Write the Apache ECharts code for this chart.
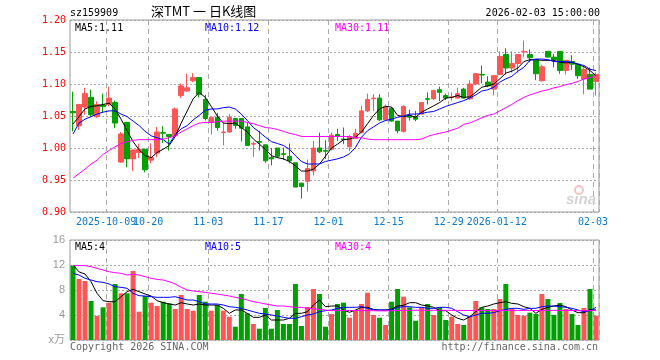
<!DOCTYPE html>
<html>
<head>
<meta charset="utf-8">
<script src="https://cdn.jsdelivr.net/npm/echarts@6/dist/echarts.min.js"></script>
<style>html,body{margin:0;padding:0;background:#fff}#c{width:660px;height:360px}</style>
</head>
<body>
<div id="c"></div>
<script>
const dates = ['2025-09-23','2025-09-24','2025-09-25','2025-09-26','2025-09-29','2025-09-30',
'2025-10-09','2025-10-10','2025-10-13','2025-10-14','2025-10-15','2025-10-16','2025-10-17',
'2025-10-20','2025-10-21','2025-10-22','2025-10-23','2025-10-24','2025-10-27','2025-10-28','2025-10-29','2025-10-30','2025-10-31',
'2025-11-03','2025-11-04','2025-11-05','2025-11-06','2025-11-07','2025-11-10','2025-11-11','2025-11-12','2025-11-13','2025-11-14',
'2025-11-17','2025-11-18','2025-11-19','2025-11-20','2025-11-21','2025-11-24','2025-11-25','2025-11-26','2025-11-27','2025-11-28',
'2025-12-01','2025-12-02','2025-12-03','2025-12-04','2025-12-05','2025-12-08','2025-12-09','2025-12-10','2025-12-11','2025-12-12',
'2025-12-15','2025-12-16','2025-12-17','2025-12-18','2025-12-19','2025-12-22','2025-12-23','2025-12-24','2025-12-25','2025-12-26',
'2025-12-29','2025-12-30','2025-12-31','2026-01-05','2026-01-06','2026-01-07','2026-01-08','2026-01-09',
'2026-01-12','2026-01-13','2026-01-14','2026-01-15','2026-01-16','2026-01-19','2026-01-20','2026-01-21','2026-01-22','2026-01-23',
'2026-01-26','2026-01-27','2026-01-28','2026-01-29','2026-01-30','2026-02-02','2026-02-03'];

const tickDates  = ['2025-10-09','2025-10-20','2025-11-03','2025-11-17','2025-12-01','2025-12-15','2025-12-29','2026-01-12','2026-02-03'];
const tickLabels = ['2025-10-09','10-20','11-03','11-17','12-01','12-15','12-29','2026-01-12','02-03'];

const open = [1.057,1.035,1.064,1.079,1.049,1.067,1.068,1.071,0.978,1.040,0.983,0.993,0.998,0.981,0.992,1.024,1.021,1.019,1.082,1.089,1.105,1.110,
1.076,1.040,1.048,1.024,1.025,1.046,1.046,1.033,1.006,1.010,1.005,0.985,1.000,0.991,0.987,0.977,0.945,0.948,0.964,1.000,0.996,0.998,
1.021,1.014,1.002,1.015,1.024,1.058,1.077,1.078,1.044,1.062,1.042,1.026,1.051,1.049,1.053,1.077,1.077,1.091,1.082,1.079,1.078,1.092,
1.077,1.100,1.115,1.103,1.092,1.115,1.146,1.125,1.132,1.150,1.146,1.138,1.105,1.151,1.142,1.151,1.121,1.135,1.131,1.108,1.115,1.104];
const close = [1.055,1.068,1.085,1.052,1.068,1.065,1.078,1.039,1.022,0.983,0.997,0.998,0.966,0.985,1.025,1.023,1.018,1.061,1.097,1.094,1.110,1.084,
1.046,1.048,1.032,1.025,1.048,1.035,1.031,1.004,1.007,1.009,0.980,0.983,0.987,0.990,0.980,0.939,0.940,0.968,1.000,0.994,0.995,1.020,
1.018,1.013,1.018,1.023,1.058,1.076,1.078,1.044,1.065,1.042,1.027,1.065,1.048,1.045,1.071,1.076,1.090,1.087,1.078,1.080,1.085,1.078,
1.100,1.116,1.114,1.097,1.113,1.143,1.125,1.132,1.146,1.151,1.141,1.116,1.127,1.142,1.138,1.121,1.137,1.131,1.113,1.123,1.092,1.115];
const low = [1.026,1.028,1.052,1.049,1.047,1.055,1.065,1.031,0.977,0.970,0.964,0.984,0.962,0.976,0.986,1.008,0.996,1.018,1.078,1.088,1.103,1.079,
1.043,1.021,1.027,1.004,1.024,1.030,1.010,1.003,0.986,0.996,0.977,0.973,0.985,0.981,0.976,0.939,0.921,0.932,0.957,0.992,0.983,0.996,
1.011,1.006,0.995,1.015,1.023,1.056,1.058,1.042,1.042,1.041,1.023,1.024,1.043,1.042,1.053,1.068,1.075,1.073,1.075,1.074,1.078,1.078,
1.075,1.098,1.101,1.095,1.082,1.115,1.115,1.118,1.118,1.142,1.134,1.106,1.104,1.142,1.126,1.116,1.115,1.122,1.108,1.084,1.092,1.082];
const high = [1.088,1.069,1.094,1.091,1.073,1.085,1.096,1.074,1.025,1.040,0.997,1.007,0.999,1.007,1.033,1.034,1.021,1.063,1.101,1.116,1.117,1.110,
1.083,1.048,1.055,1.039,1.053,1.046,1.046,1.040,1.010,1.027,1.005,1.000,1.000,1.001,1.007,0.977,0.946,0.982,1.011,1.024,1.012,1.024,
1.030,1.032,1.020,1.030,1.066,1.085,1.084,1.084,1.068,1.064,1.042,1.067,1.060,1.058,1.071,1.087,1.091,1.096,1.085,1.087,1.094,1.094,
1.106,1.117,1.129,1.112,1.113,1.151,1.156,1.151,1.146,1.168,1.154,1.138,1.130,1.151,1.147,1.151,1.137,1.145,1.131,1.127,1.126,1.118];

const ma5 = [1.0375,1.049,1.061,1.065,1.066,1.068,1.070,1.061,1.045,1.027,1.010,0.997,0.988,0.985,0.993,0.998,1.004,1.018,1.039,1.058,1.077,1.087,
1.079,1.065,1.050,1.039,1.038,1.039,1.032,1.025,1.014,1.006,0.998,0.988,0.985,0.983,0.979,0.972,0.964,0.964,0.967,0.975,0.987,1.000,
1.006,1.013,1.014,1.017,1.025,1.038,1.051,1.061,1.065,1.064,1.051,1.049,1.051,1.048,1.056,1.061,1.066,1.071,1.078,1.079,1.082,1.079,
1.080,1.087,1.095,1.097,1.100,1.108,1.117,1.120,1.125,1.135,1.138,1.138,1.137,1.137,1.137,1.134,1.133,1.134,1.131,1.127,1.121,1.113];
const ma10 = [1.022,1.039,1.045,1.049,1.053,1.056,1.058,1.058,1.053,1.049,1.042,1.035,1.026,1.019,1.016,1.013,1.006,1.021,1.030,1.035,1.044,1.051,
1.059,1.061,1.061,1.063,1.064,1.061,1.053,1.043,1.032,1.025,1.017,1.010,1.007,1.004,0.998,0.988,0.979,0.975,0.975,0.975,0.979,0.981,
0.983,0.986,0.991,1.001,1.017,1.027,1.033,1.039,1.043,1.045,1.048,1.050,1.053,1.053,1.054,1.056,1.057,1.061,1.065,1.068,1.071,1.074,
1.078,1.083,1.089,1.091,1.095,1.103,1.108,1.112,1.120,1.126,1.137,1.139,1.139,1.138,1.135,1.135,1.135,1.134,1.131,1.129,1.123,1.121];
const ma30 = [0.953,0.960,0.967,0.975,0.981,0.990,0.996,1.002,1.007,1.010,1.012,1.013,1.013,1.013,1.013,1.014,1.016,1.019,1.025,1.030,1.035,1.039,
1.040,1.040,1.041,1.042,1.042,1.042,1.042,1.040,1.038,1.035,1.032,1.031,1.029,1.026,1.023,1.021,1.018,1.018,1.018,1.018,1.018,1.018,
1.018,1.018,1.018,1.016,1.016,1.014,1.013,1.013,1.013,1.013,1.013,1.013,1.013,1.013,1.014,1.018,1.021,1.023,1.025,1.028,1.031,1.037,
1.039,1.043,1.047,1.051,1.053,1.058,1.063,1.068,1.074,1.079,1.083,1.086,1.089,1.091,1.094,1.096,1.099,1.101,1.104,1.108,1.110,1.113];

const volume = [11.9,9.76,9.44,6.24,3.84,5.23,5.97,8.96,7.47,7.47,11.04,4.53,7.04,5.97,5.44,6.13,5.87,4.96,7.2,4.96,4.69,7.2,
6.13,4.69,5.6,4.69,3.73,2.13,7.36,4.27,2.56,1.81,5.12,1.81,4.8,2.56,2.56,8.96,2.24,5.28,8.16,7.36,2.13,4.16,
5.76,5.97,3.57,4.64,5.76,7.57,4.0,3.57,2.4,6.13,8.16,6.93,5.23,3.09,5.23,5.76,4.0,5.23,3.2,3.73,2.56,2.4,
3.84,6.24,5.23,4.96,4.96,6.56,8.96,4.96,4.0,3.89,4.37,4.16,7.36,6.56,4.0,5.92,4.96,4.16,2.4,5.12,8.16,3.89];
const vma5 = [12.0,10.9,10.56,9.33,7.47,6.29,6.13,6.13,6.93,7.73,8.1,7.73,7.36,7.04,6.29,5.97,5.76,5.6,5.97,5.76,5.6,5.76,
5.6,5.6,5.6,5.07,4.27,4.8,4.8,4.27,3.63,3.63,4.0,3.2,3.2,3.2,3.47,4.27,4.27,4.53,5.6,6.4,5.33,5.44,
5.44,4.8,4.43,4.8,5.23,5.23,4.9,4.8,4.8,4.96,5.44,5.55,5.97,5.97,5.6,5.44,5.23,4.69,4.69,4.0,3.47,3.2,
3.73,4.53,5.23,5.44,5.76,5.97,6.13,5.87,5.76,5.33,5.07,4.27,4.9,5.23,5.44,5.6,5.33,4.8,4.37,4.37,4.9,4.8];
const vma10 = [10.67,10.4,9.87,9.6,9.33,9.23,8.96,8.53,8.43,8.27,7.47,7.09,7.04,6.93,6.83,6.83,6.83,6.93,6.67,6.4,6.4,6.13,
5.76,5.76,5.76,5.6,5.33,5.23,5.07,4.8,4.53,4.27,4.16,4.0,3.84,3.63,3.47,3.47,3.73,4.0,4.16,4.53,4.69,4.8,
5.07,5.23,5.23,5.23,5.33,5.07,4.8,4.8,4.8,4.8,5.23,5.33,5.33,5.23,5.23,5.07,5.07,5.23,5.23,5.07,4.53,4.0,
3.73,4.0,4.27,4.27,4.37,4.69,4.9,5.07,5.07,4.9,5.07,5.07,5.33,5.44,5.44,5.33,5.23,5.07,4.8,4.53,4.69,5.23];
const vma30 = [11.9,11.9,11.9,11.73,11.47,11.2,10.93,10.77,10.67,10.4,10.51,10.4,10.13,9.87,9.7,9.6,9.33,8.96,8.43,8.0,7.84,7.73,
7.63,7.47,7.36,7.2,7.04,6.83,6.67,6.4,6.13,5.97,5.76,5.6,5.44,5.44,5.33,5.23,5.23,5.07,5.0,4.9,4.8,4.69,
4.72,4.72,4.72,4.72,4.7,4.7,4.68,4.66,4.66,4.68,4.7,4.72,4.74,4.76,4.76,4.76,4.76,4.76,4.76,4.74,4.74,4.72,
4.72,4.72,4.72,4.72,4.72,4.72,4.74,4.74,4.74,4.74,4.74,4.72,4.72,4.74,4.74,4.72,4.72,4.72,4.7,4.7,4.7,4.7];

const UP = '#ff5555', DOWN = '#00a000';
const MONO = '"DejaVu Sans Mono", "Liberation Mono", monospace';
const tickIdxList = tickDates.map(d => dates.indexOf(d));
const tickIdx = new Set(tickIdxList);
const evenIdx = new Set(tickIdxList.filter((v, k) => k % 2 === 0));
const oddIdx = new Set(tickIdxList.filter((v, k) => k % 2 === 1));
const labelOf = {}; tickDates.forEach((d, k) => labelOf[d] = tickLabels[k]);

const kData = dates.map((d, i) => [open[i], close[i], low[i], high[i]]);
const volData = volume.map((v, i) => ({ value: v, itemStyle: { color: close[i] >= open[i] ? UP : DOWN } }));

const L = 70, W = 529;
const splitX = { show: true, interval: (i) => tickIdx.has(i), lineStyle: { color: '#aaa', type: [5, 4], width: 1 } };
const splitY = { show: true, lineStyle: { color: '#aaa', type: [2, 2], width: 1 } };
const xLabel = (set) => ({ interval: (i) => set.has(i), margin: 5, hideOverlap: false,
  formatter: (v) => '{a|' + (labelOf[v] || '') + '}',
  rich: { a: { padding: [0, 6, 0, 0], fontFamily: MONO, fontSize: 10, color: '#0a7ad0' } } });

const chart = echarts.init(document.getElementById('c'), null, { renderer: 'canvas' });
const last = a => a[a.length - 1];
chart.setOption({
  animation: false,
  backgroundColor: '#fff',
  grid: [
    { left: L, top: 20, width: W, height: 192, show: true, borderColor: '#999', borderWidth: 1, backgroundColor: 'transparent' },
    { left: L, top: 240, width: W, height: 100, show: true, borderColor: '#999', borderWidth: 1, backgroundColor: 'transparent' }
  ],
  xAxis: [
    { type: 'category', gridIndex: 0, data: dates, boundaryGap: true, position: 'bottom',
      axisLine: { show: false }, axisTick: { show: false }, splitLine: splitX, axisLabel: xLabel(oddIdx) },
    { type: 'category', gridIndex: 1, data: dates, boundaryGap: true,
      axisLine: { show: false }, axisTick: { show: false }, axisLabel: { show: false }, splitLine: splitX },
    { type: 'category', gridIndex: 0, data: dates, boundaryGap: true, position: 'bottom', offset: 0,
      axisLine: { show: false }, axisTick: { show: false }, splitLine: { show: false }, axisLabel: xLabel(evenIdx) }
  ],
  yAxis: [
    { type: 'value', gridIndex: 0, min: 0.90, max: 1.20, interval: 0.05,
      axisLine: { show: false }, axisTick: { show: false }, splitLine: splitY,
      axisLabel: { formatter: v => v.toFixed(2), color: '#ff0000', fontFamily: MONO, fontSize: 10, margin: 4 } },
    { type: 'value', gridIndex: 1, min: 0, max: 16, interval: 4,
      axisLine: { show: false }, axisTick: { show: false }, splitLine: splitY,
      axisLabel: { formatter: v => v === 0 ? 'x万' : String(v), color: '#999', fontFamily: '"Liberation Sans", "Noto Sans CJK SC", sans-serif', fontSize: 11, margin: 5 } }
  ],
  series: [
    { type: 'candlestick', xAxisIndex: 0, yAxisIndex: 0, data: kData, barWidth: 5,
      itemStyle: { color: UP, color0: DOWN, borderColor: UP, borderColor0: DOWN, borderWidth: 1 } },
    { type: 'line', xAxisIndex: 0, yAxisIndex: 0, data: ma5, symbol: 'none', lineStyle: { color: '#000', width: 1 } },
    { type: 'line', xAxisIndex: 0, yAxisIndex: 0, data: ma10, symbol: 'none', lineStyle: { color: '#0000ff', width: 1 } },
    { type: 'line', xAxisIndex: 0, yAxisIndex: 0, data: ma30, symbol: 'none', lineStyle: { color: '#ff00ff', width: 1 } },
    { type: 'bar', xAxisIndex: 1, yAxisIndex: 1, data: volData, barWidth: 5 },
    { type: 'line', xAxisIndex: 1, yAxisIndex: 1, data: vma5, symbol: 'none', lineStyle: { color: '#000', width: 1 } },
    { type: 'line', xAxisIndex: 1, yAxisIndex: 1, data: vma10, symbol: 'none', lineStyle: { color: '#0000ff', width: 1 } },
    { type: 'line', xAxisIndex: 1, yAxisIndex: 1, data: vma30, symbol: 'none', lineStyle: { color: '#ff00ff', width: 1 } }
  ],
  graphic: [
    { type: 'text', left: 70, top: 8, style: { text: 'sz159909', font: '10px ' + MONO, fill: '#000' } },
    { type: 'text', left: 151, top: 5, style: { text: '深TMT 一 日K线图', font: '13px "Noto Sans CJK SC", sans-serif', fill: '#000' } },
    { type: 'text', right: 60, top: 8, style: { text: '2026-02-03 15:00:00', font: '10px ' + MONO, fill: '#000' } },
    { type: 'text', left: 75, top: 23, style: { text: 'MA5:' + last(ma5).toFixed(2), font: '10px ' + MONO, fill: '#000' } },
    { type: 'text', left: 205, top: 23, style: { text: 'MA10:' + last(ma10).toFixed(2), font: '10px ' + MONO, fill: '#0000ff' } },
    { type: 'text', left: 335, top: 23, style: { text: 'MA30:' + last(ma30).toFixed(2), font: '10px ' + MONO, fill: '#ff00ff' } },
    { type: 'text', left: 75, top: 242, style: { text: 'MA5:' + Math.floor(last(vma5)), font: '10px ' + MONO, fill: '#000' } },
    { type: 'text', left: 205, top: 242, style: { text: 'MA10:' + Math.floor(last(vma10)), font: '10px ' + MONO, fill: '#0000ff' } },
    { type: 'text', left: 335, top: 242, style: { text: 'MA30:' + Math.floor(last(vma30)), font: '10px ' + MONO, fill: '#ff00ff' } },
    { type: 'text', left: 70, top: 342, style: { text: 'Copyright 2026 SINA.COM', font: '10px ' + MONO, fill: '#666' } },
    { type: 'text', right: 62, top: 342, style: { text: 'http://finance.sina.com.cn', font: '10px ' + MONO, fill: '#666' } },
    { type: 'circle', shape: { cx: 579, cy: 190, r: 4 }, style: { fill: 'none', stroke: '#f4c4c4', lineWidth: 2 }, z: 1 },
    { type: 'text', left: 566, top: 192, style: { text: 'sina', font: 'italic bold 15px "Liberation Sans", sans-serif', fill: '#d4d4d4' }, z: 1 }
  ]
});
</script>
</body>
</html>
